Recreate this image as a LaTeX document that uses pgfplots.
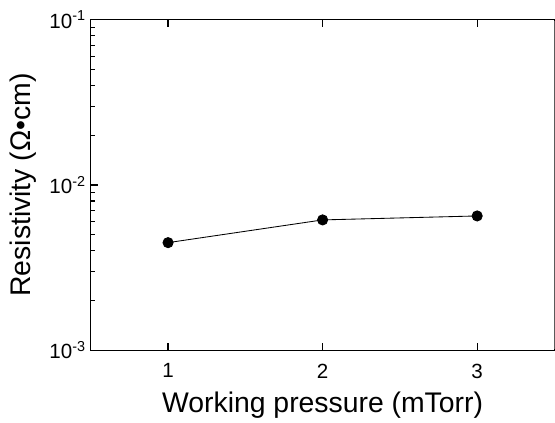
\documentclass[border=0pt]{standalone}
\usepackage{fontspec}
\setmainfont{Liberation Sans}
\usepackage{pgfplots}
\pgfplotsset{compat=1.18}
\begin{document}
\begin{tikzpicture}
\begin{axis}[
  width=327pt, height=233pt,
  scale only axis,
  ymode=log,
  xmin=0.5, xmax=3.5,
  ymin=1e-3, ymax=1e-1,
  xtick pos=both,
  ytick pos=left,
  tick align=inside,
  major tick length=5pt,
  minor tick length=3pt,
  xtick={1,2,3},
  xticklabels={1,2,3},
  ytick={1e-3,1e-2,1e-1},
  yticklabels={10\textsuperscript{-3},10\textsuperscript{-2},10\textsuperscript{-1}},
  tick label style={font=\fontsize{14.5}{17}\selectfont},
  xticklabel style={yshift=-6pt},
  xlabel={Working pressure (mTorr)},
  ylabel={Resistivity (Ω•cm)},
  xlabel style={font=\fontsize{20}{24}\selectfont, yshift=-2.5pt},
  ylabel style={font=\fontsize{20}{24}\selectfont, yshift=2pt},
  axis line style={line width=0.8pt},
  tick style={black, line width=0.8pt},
]
\addplot[black, line width=0.6pt, mark=*, mark size=3.6pt] coordinates {
  (1,0.00448) (2,0.00615) (3,0.0065)
};
\draw[white, line width=1.5pt] (rel axis cs:1,0.003) -- (rel axis cs:1,0.997);
\coordinate (tl) at (rel axis cs:0,1);
\coordinate (bl) at (rel axis cs:0,0);
\end{axis}
\path (current bounding box.west) ++(-4pt,0);
\path (tl) ++(0,14pt);
\path (bl) ++(0,-48.5pt);
\end{tikzpicture}
\end{document}
